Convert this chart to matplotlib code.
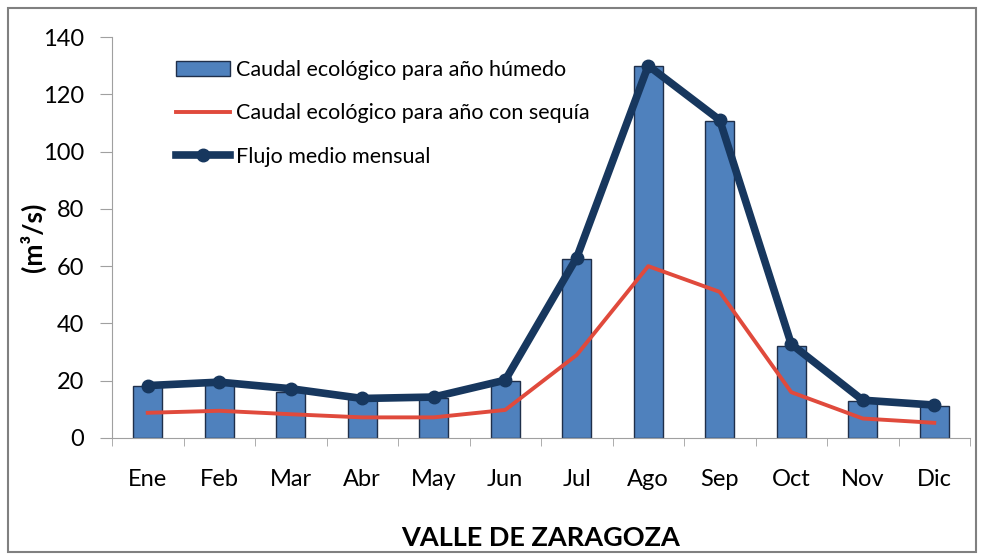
import matplotlib
matplotlib.use("Agg")
import matplotlib.pyplot as plt
import numpy as np

months = ["Ene", "Feb", "Mar", "Abr", "May", "Jun", "Jul", "Ago", "Sep", "Oct", "Nov", "Dic"]
humedo = [18, 19, 16, 13.5, 14, 20, 62.5, 130, 110.5, 32, 13, 11]
sequia = [8.8, 9.5, 8.3, 7.2, 7.2, 9.8, 29, 60, 51, 16, 6.8, 5.3]
flujo = [18.3, 19.5, 17.2, 13.8, 14.3, 20.2, 63, 130, 111, 32.8, 13.2, 11.5]
yticks = [0, 20, 40, 60, 80, 100, 120, 140]

plt.rcParams['font.family'] = ['Lato', 'DejaVu Sans']

fig = plt.figure(figsize=(9.82, 5.54), dpi=100)
ax = fig.add_axes([112/982, 1-438/554, (970-112)/982, (438-37)/554])

x = np.arange(len(months))
b = ax.bar(x, humedo, width=0.4, color="#4F81BD", edgecolor="#1F2F4A", linewidth=1.0,
           label="Caudal ecológico para año húmedo", zorder=2)
l1, = ax.plot(x, sequia, color="#E04A3C", linewidth=2.8,
              label="Caudal ecológico para año con sequía", zorder=3)
l2, = ax.plot(x, flujo, color="#17375E", linewidth=5.5, marker="o", markersize=9,
              label="Flujo medio mensual", zorder=4)

ax.set_xlim(-0.5, len(months) - 0.5)
ax.set_ylim(0, 140)
ax.set_yticks(yticks)
ax.set_yticklabels([str(v) for v in yticks], fontsize=17)
ax.set_xticks(x)
ax.set_xticklabels(months, fontsize=17)
ax.tick_params(axis="x", which="major", length=0, pad=22)
ax.set_xticks(np.arange(-0.5, len(months)), minor=True)
ax.tick_params(axis="x", which="minor", length=6, color="#A0A0A0")
ax.tick_params(axis="y", length=9, color="#A0A0A0", pad=11)
for s in ["top", "right"]:
    ax.spines[s].set_visible(False)
for s in ["left", "bottom"]:
    ax.spines[s].set_color("#A0A0A0")

ax.set_ylabel("(m³/s)", fontsize=19, fontweight="bold")
ax.yaxis.set_label_coords(-0.077, 0.5)
ax.set_xlabel("VALLE DE ZARAGOZA", fontsize=19.5, fontweight="bold", labelpad=26)

leg = ax.legend(handles=[b, l1, l2], loc="upper left", bbox_to_anchor=(0.065, 0.965), frameon=False,
                fontsize=15.5, labelspacing=1.1, handlelength=2.5, handletextpad=0.25,
                borderaxespad=0)

fig.patches.append(plt.Rectangle((8/982, 2/554), 968/982, 544/554, transform=fig.transFigure,
                                 fill=False, edgecolor="#808080", linewidth=1.5))

fig.savefig("out.png", dpi=100)
